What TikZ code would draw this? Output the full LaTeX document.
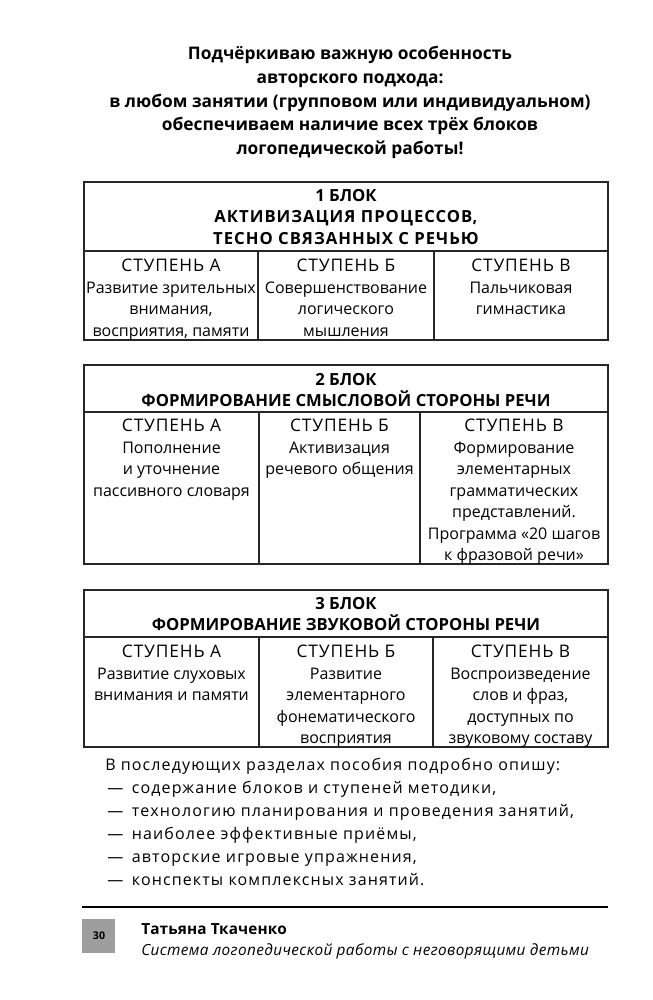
\documentclass[tikz,border=0pt]{standalone}
\usepackage{fontspec}
\setmainfont{Open Sans}
\usetikzlibrary{positioning}

\newcommand{\stupen}[1]{{\fontsize{13}{16.1}\selectfont\addfontfeature{LetterSpace=5}СТУПЕНЬ #1}}
\newcommand{\shire}[1]{{\addfontfeature{LetterSpace=6}#1}}

\tikzset{
    ramka/.style={line width=1.3pt, black!85},
    zagolovok/.style={font=\bfseries\fontsize{12.5}{16.1}\selectfont, align=center, anchor=north, inner sep=0pt},
    yacheyka/.style={font=\fontsize{12}{16.1}\selectfont, align=center, anchor=north, inner sep=0pt},
}

\begin{document}
\begin{tikzpicture}[x=0.75pt, y=-0.75pt]

    \useasboundingbox (0,0) rectangle (653,1000);

    % =================================================================
    % 1. ВСТУПИТЕЛЬНЫЙ ТЕКСТ
    % =================================================================
    \node[font=\bfseries\fontsize{13}{17.8}\selectfont, align=center, anchor=north, inner sep=0pt] (vstup) at (350,46)
        {Подчёркиваю важную особенность\\
         авторского подхода:\\
         в любом занятии (групповом или индивидуальном)\\
         обеспечиваем наличие всех трёх блоков\\
         логопедической работы!};

    % =================================================================
    % 2. БЛОК 1
    % =================================================================
    \draw[ramka] (84,182) rectangle (608,340);
    \draw[ramka] (84,251) -- (608,251);
    \draw[ramka] (258,251) -- (258,340) (434,251) -- (434,340);

    \node[zagolovok] (blok1) at (346,189)
        {1 БЛОК\\ \shire{АКТИВИЗАЦИЯ ПРОЦЕССОВ,}\\ \shire{ТЕСНО СВЯЗАННЫХ С РЕЧЬЮ}};
    \node[yacheyka] (b1a) at (171,259)
        {\stupen{А}\\ Развитие зрительных\\ внимания,\\ восприятия, памяти};
    \node[yacheyka] (b1b) at (346,259)
        {\stupen{Б}\\ Совершенствование\\ логического\\ мышления};
    \node[yacheyka] (b1c) at (521,259)
        {\stupen{В}\\ Пальчиковая\\ гимнастика};

    % =================================================================
    % 3. БЛОК 2
    % =================================================================
    \draw[ramka] (84,365) rectangle (608,564);
    \draw[ramka] (84,412) -- (608,412);
    \draw[ramka] (259,412) -- (259,564) (420,412) -- (420,564);

    \node[zagolovok] (blok2) at (346,373)
        {2 БЛОК\\ ФОРМИРОВАНИЕ СМЫСЛОВОЙ СТОРОНЫ РЕЧИ};
    \node[yacheyka] (b2a) at (171.5,419)
        {\stupen{А}\\ Пополнение\\ и уточнение\\ пассивного словаря};
    \node[yacheyka] (b2b) at (339.5,419)
        {\stupen{Б}\\ Активизация\\ речевого общения};
    \node[yacheyka] (b2c) at (514,419)
        {\stupen{В}\\ Формирование\\ элементарных\\ грамматических\\ представлений.\\ Программа «20 шагов\\ к фразовой речи»};

    % =================================================================
    % 4. БЛОК 3
    % =================================================================
    \draw[ramka] (84,590) rectangle (608,747);
    \draw[ramka] (84,637) -- (608,637);
    \draw[ramka] (259,637) -- (259,747) (433,637) -- (433,747);

    \node[zagolovok] (blok3) at (346,597)
        {3 БЛОК\\ ФОРМИРОВАНИЕ ЗВУКОВОЙ СТОРОНЫ РЕЧИ};
    \node[yacheyka] (b3a) at (171.5,645)
        {\stupen{А}\\ Развитие слуховых\\ внимания и памяти};
    \node[yacheyka] (b3b) at (346,645)
        {\stupen{Б}\\ Развитие\\ элементарного\\ фонематического\\ восприятия};
    \node[yacheyka] (b3c) at (520.5,645)
        {\stupen{В}\\ Воспроизведение\\ слов и фраз,\\ доступных по\\ звуковому составу};

    % =================================================================
    % 5. ПЕРЕЧЕНЬ
    % =================================================================
    \node[font=\fontsize{12}{17.2}\selectfont\addfontfeature{LetterSpace=7}, align=left, anchor=north west, inner sep=0pt] (perechen) at (105,758)
        {В последующих разделах пособия подробно опишу:\\
         \kern1.5pt—\kern6.5pt содержание блоков и ступеней методики,\\
         \kern1.5pt—\kern6.5pt технологию планирования и проведения занятий,\\
         \kern1.5pt—\kern6.5pt наиболее эффективные приёмы,\\
         \kern1.5pt—\kern6.5pt авторские игровые упражнения,\\
         \kern1.5pt—\kern6.5pt конспекты комплексных занятий.};

    % =================================================================
    % 6. КОЛОНТИТУЛ
    % =================================================================
    \coordinate (LineStart) at (82,907);
    \coordinate (LineEnd) at (608,907);
    \draw[line width=1.1pt] (LineStart) -- (LineEnd);
    \fill[black!38] (82,919) rectangle (115,953);
    \node[font=\bfseries\fontsize{8}{10}\selectfont, inner sep=0pt] (stranica) at (99,936) {30};
    \node[font=\bfseries\fontsize{11.5}{14}\selectfont\addfontfeature{LetterSpace=1}, anchor=west, inner sep=0pt] (avtor) at (141,929)
        {Татьяна Ткаченко};
    \node[font=\itshape\fontsize{11.5}{14}\selectfont\addfontfeature{LetterSpace=2.5}, anchor=west, inner sep=0pt] (kniga) at (141,951)
        {Система логопедической работы с неговорящими детьми};

\end{tikzpicture}
\end{document}
